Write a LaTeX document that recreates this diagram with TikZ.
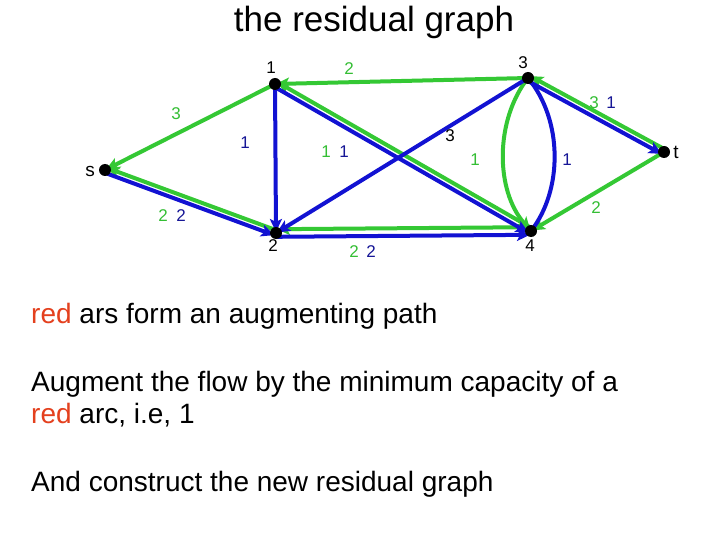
\documentclass[tikz,border=0pt]{standalone}
\usepackage{fontspec}
\setmainfont{Liberation Sans}
\usetikzlibrary{arrows.meta,calc}
\definecolor{gline}{RGB}{52,200,52}
\definecolor{gtext}{RGB}{52,190,52}
\definecolor{bline}{RGB}{18,18,210}
\definecolor{btext}{RGB}{22,22,150}
\definecolor{redtxt}{RGB}{228,64,30}
\tikzset{
  gedge/.style={draw=gline,line width=4pt},
  bedge/.style={draw=bline,line width=4pt},
  tip/.style={-{Stealth[length=13pt,width=12pt,inset=3pt]},shorten >=1pt},
  off/.style={transform canvas={shift={#1}}},
  lbl/.style={font=\fontsize{17}{19}\selectfont,inner sep=0pt},
  gl/.style={lbl,text=gtext},
  bl/.style={lbl,text=btext},
  kl/.style={lbl,text=black},
  body/.style={font=\fontsize{28}{32}\selectfont,anchor=base west,inner sep=0pt,align=left},
}
\begin{document}
\begin{tikzpicture}[x=1pt,y=-1pt]
\fill[white] (0,0) rectangle (720,540);
\useasboundingbox (0,0) rectangle (720,540);
% vertices
\coordinate (s) at (105,170);
\coordinate (n1) at (275,84);
\coordinate (n3) at (528,78);
\coordinate (t) at (664,152);
\coordinate (n2) at (276,233);
\coordinate (n4) at (531,231);
% green residual arcs
\draw[gedge,tip] (n1) -- (s);
\draw[gedge,tip,off={(0.9,-2.5)}] (n2) -- (s);
\draw[gedge,tip] (n3) -- (n1);
\draw[gedge,tip,off={(1.4,-2.4)}] (n4) -- (n1);
\draw[gedge,tip,off={(0,-3.8)}] (n4) -- (n2);
\draw[gedge,tip,off={(1.3,-2.4)}] (t) -- (n3);
\draw[gedge,tip] (t) -- (n4);
\draw[gedge,tip] (n3) .. controls (495,120) and (495,190) .. (n4);
% blue residual arcs
\draw[bedge,tip,off={(-0.9,2.5)}] (s) -- (n2);
\draw[bedge,tip] (n1) -- (n2);
\draw[bedge,tip,off={(-1.4,2.4)}] (n1) -- (n4);
\draw[bedge,tip] (n3) -- (n2);
\draw[bedge,tip,off={(0,3.8)}] (n2) -- (n4);
\draw[bedge,tip,off={(-1.3,2.4)}] (n3) -- (t);
\draw[bedge] (n3) .. controls (563,120) and (563,190) .. (n4);
% dots
\foreach \v in {s,n1,n3,t,n2,n4} \fill[black] (\v) circle (6pt);
% vertex names
\node[kl,font=\fontsize{19}{21}\selectfont] (ks) at (90,171) {s};
\node[kl,font=\fontsize{19}{21}\selectfont] (kt) at (676,152) {t};
\node[kl] (k1) at (271,68) {1};
\node[kl] (k3) at (523,63) {3};
\node[kl] (k2) at (273,246) {2};
\node[kl] (k4) at (530,246) {4};
% capacities
\node[gl] (c1) at (349,69) {2};
\node[gl] (c2) at (176,114) {3};
\node[bl] (c3) at (245,143) {1};
\node[gl] (c4) at (326,152) {1};
\node[bl] (c5) at (344,152) {1};
\node[kl] (c6) at (450,136) {3};
\node[gl] (c7) at (475,160) {1};
\node[bl] (c8) at (567,160) {1};
\node[gl] (c9) at (594,103) {3};
\node[bl] (c10) at (611,103) {1};
\node[gl] (c11) at (596,208) {2};
\node[gl] (c12) at (163,216) {2};
\node[bl] (c13) at (181,216) {2};
\node[gl] (c14) at (354,252) {2};
\node[bl] (c15) at (371,252) {2};
% texts
\node[font=\fontsize{35}{40}\selectfont,anchor=base,inner sep=0pt] (title) at (374,32) {the residual graph};
\node[body] (t1) at (31,323) {\textcolor{redtxt}{red} ars form an augmenting path};
\node[body] (t2) at (31,391) {Augment the flow by the minimum capacity of a};
\node[body] (t3) at (31,423) {\textcolor{redtxt}{red} arc, i.e, 1};
\node[body] (t4) at (31,491) {And construct the new residual graph};
\end{tikzpicture}
\end{document}
